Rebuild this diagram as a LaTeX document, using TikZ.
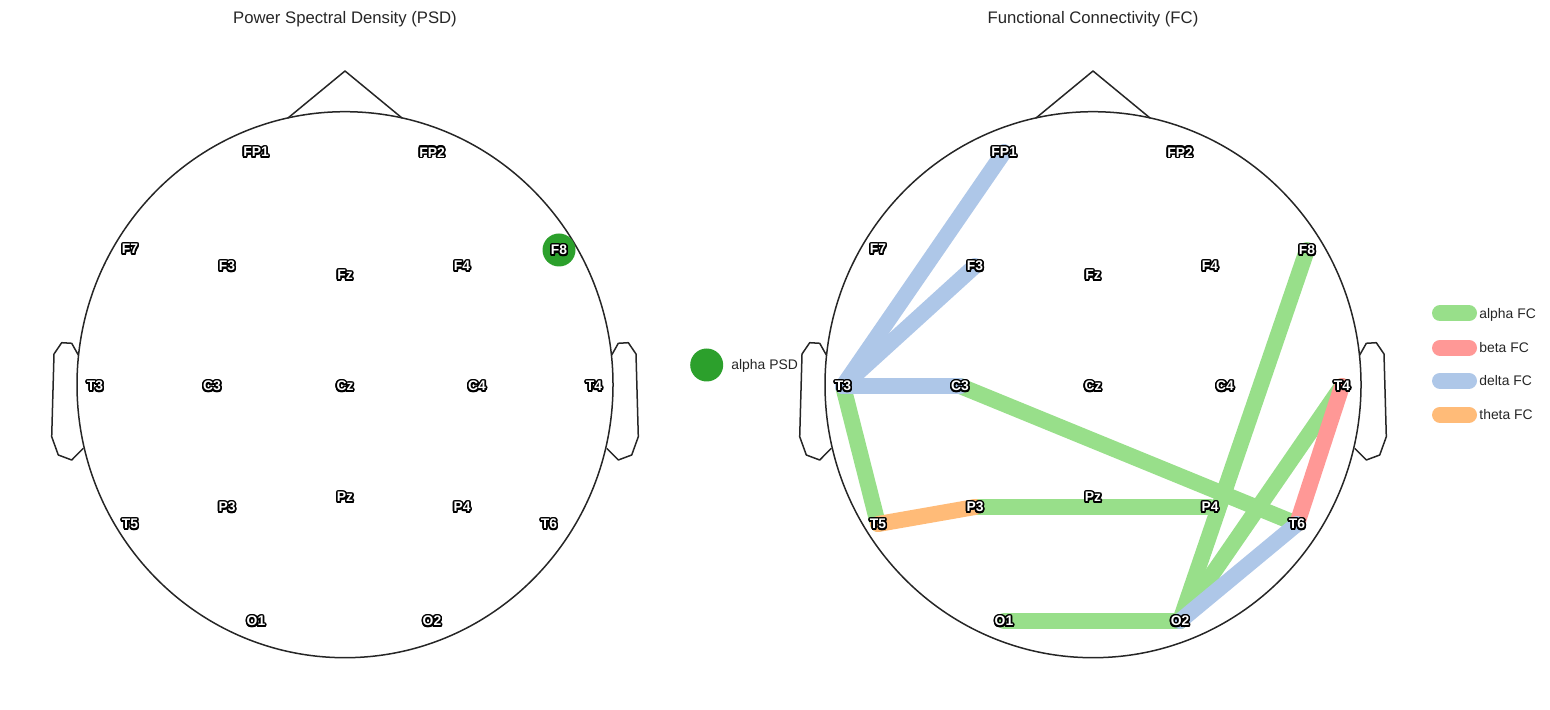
\documentclass[tikz,border=0pt]{standalone}
\usepackage{fontspec}
\setmainfont{Liberation Sans}
\usepackage{contour}
\contourlength{0.8pt}
\definecolor{psdgreen}{HTML}{2CA02C}
\definecolor{alphac}{HTML}{98DF8A}
\definecolor{betac}{HTML}{FF9896}
\definecolor{deltac}{HTML}{AEC7E8}
\definecolor{thetac}{HTML}{FFBB78}
\definecolor{txtgray}{HTML}{262626}
\begin{document}
\begin{tikzpicture}[x=0.5pt,y=-0.5pt,
  headline/.style={draw=black!85,line width=0.75pt,line join=round},
  elabel/.style={font=\bfseries\fontsize{6.95}{8}\selectfont,inner sep=0pt,yshift=-0.5pt},
  titletext/.style={font=\fontsize{8.35}{10}\selectfont,text=txtgray,anchor=base,inner sep=0pt},
  legtext/.style={font=\fontsize{6.95}{8}\selectfont,text=txtgray,anchor=base west,inner sep=0pt},
  fcline/.style={line width=8pt,line cap=round}]
\useasboundingbox (0,0) rectangle (1550,710);
% titles
\node[titletext] (t1) at (345,24) {Power Spectral Density (PSD)};
\node[titletext] (t2) at (1093,24) {Functional Connectivity (FC)};
% heads
\foreach \cx in {345,1093}{
  \draw[headline] (\cx,384.7) ellipse [x radius=268, y radius=273];
  \draw[headline] (\cx-57,118) -- (\cx,71) -- (\cx+57,118);
  \draw[headline] (\cx-266.7,355) -- (\cx-273.3,343.3) -- (\cx-283.3,342.7) -- (\cx-291,354)
     -- (\cx-293.3,436.7) -- (\cx-286.7,455) -- (\cx-273.3,460) -- (\cx-261.7,448.3);
  \draw[headline] (\cx+266.7,355) -- (\cx+273.3,343.3) -- (\cx+283.3,342.7) -- (\cx+291,354)
     -- (\cx+293.3,436.7) -- (\cx+286.7,455) -- (\cx+273.3,460) -- (\cx+261.7,448.3);
}
% electrode coordinates
\foreach \n/\ex/\ey in {FP1/256/152, FP2/432/152, F7/130/249, F3/227/266, Fz/345/275, F4/462/266, F8/559/250,
  T3/95/386, C3/212/386, Cz/345/386, C4/477/386, T4/594/386,
  T5/130/524, P3/227/507, Pz/345/497, P4/462/507, T6/549/524, O1/256/621, O2/432/621}{
  \coordinate (L-\n) at (\ex,\ey);
  \coordinate (R-\n) at (\ex+748,\ey);
}
% PSD marker
\fill[psdgreen] (L-F8) circle [radius=16.5];
% FC connections
\draw[fcline,alphac] (R-T3) -- (R-T5);
\draw[fcline,alphac] (R-P3) -- (R-P4);
\draw[fcline,alphac] (R-C3) -- (R-T6);
\draw[fcline,alphac] (R-F8) -- (R-O2);
\draw[fcline,alphac] (R-T4) -- (R-O2);
\draw[fcline,alphac] (R-O1) -- (R-O2);
\draw[fcline,betac] (R-T4) -- (R-T6);
\draw[fcline,deltac] (R-FP1) -- (R-T3);
\draw[fcline,deltac] (R-F3) -- (R-T3);
\draw[fcline,deltac] (R-C3) -- (R-T3);
\draw[fcline,deltac] (R-T6) -- (R-O2);
\draw[fcline,thetac] (R-T5) -- (R-P3);
% electrode labels
\foreach \n in {FP1,FP2,F7,F3,Fz,F4,F8,T3,C3,Cz,C4,T4,T5,P3,Pz,P4,T6,O1,O2}{
  \node[elabel] (Ll-\n) at (L-\n) {\contour{black}{\textcolor{white}{\n}}};
  \node[elabel] (Rl-\n) at (R-\n) {\contour{black}{\textcolor{white}{\n}}};
}
% PSD legend
\fill[psdgreen] (706.7,365) circle [radius=16.5];
\node[legtext] (lp) at (731,370) {alpha PSD};
% FC legend
\foreach \c/\t/\yy in {alphac/alpha FC/313.3, betac/beta FC/347.8, deltac/delta FC/380.7, thetac/theta FC/414.7}{
  \coordinate (la-\c) at (1440,\yy);
  \coordinate (lb-\c) at (1469,\yy);
  \draw[fcline,\c] (la-\c) -- (lb-\c);
  \node[legtext] (lt-\c) at (1479,\yy+5) {\t};
}
\end{tikzpicture}
\end{document}
